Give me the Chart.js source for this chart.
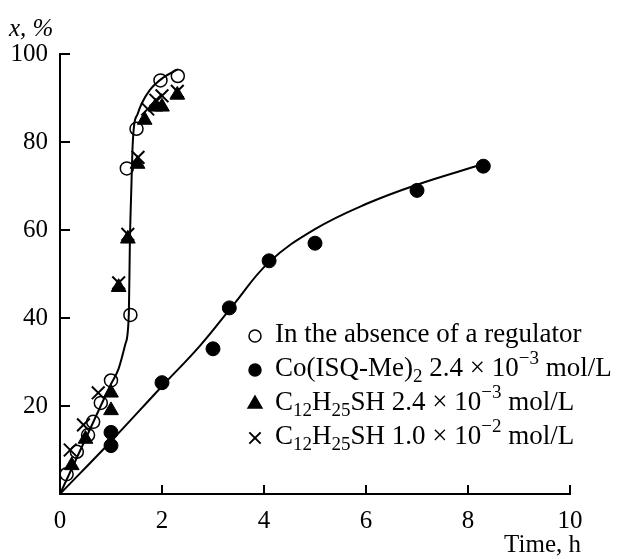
<!DOCTYPE html>
<html><head><meta charset="utf-8">
<script src="https://cdn.jsdelivr.net/npm/chart.js@4/dist/chart.umd.min.js"></script>
<style>html,body{margin:0;padding:0;background:#fff;}canvas{display:block;}</style>
</head><body>
<canvas id="c" width="624" height="559"></canvas>
<script>
// ---- data ----
const xTicks = [0, 2, 4, 6, 8, 10];
const yTicks = [20, 40, 60, 80, 100];

const noRegX = [0.13, 0.33, 0.55, 0.65, 0.8, 1.0, 1.38, 1.31, 1.5, 1.97, 2.31];
const noRegY = [4.5, 9.6, 13.4, 16.4, 20.7, 25.8, 40.7, 74, 83, 94, 95];

const coX = [1.0, 1.0, 2.0, 3.0, 3.32, 4.1, 5.0, 7.0, 8.3];
const coY = [11, 14, 25.3, 33, 42.3, 53, 57, 69, 74.5];

const tri24X = [0.23, 0.5, 1.0, 1.0, 1.15, 1.33, 1.52, 1.66, 1.87, 2.0, 2.3];
const tri24Y = [6.5, 12.5, 19, 23, 47, 58, 75, 85, 88, 88, 90.7];

const cross10X = [0.2, 0.46, 0.75, 1.15, 1.33, 1.53, 1.72, 1.88, 2.0, 2.3];
const cross10Y = [10, 15.7, 23, 48, 59, 76.5, 87.5, 89.5, 90.5, 91.5];

// fitted curves as drawn in the figure
const fastCurveX = [0, 0.5, 1.0, 1.15, 1.28, 1.35, 1.37, 1.40, 1.42, 1.45, 1.52, 1.6, 1.76, 2.02, 2.31];
const fastCurveY = [0, 12.5, 25, 28.5, 34, 41, 57, 70, 78, 83.5, 86.3, 88.7, 91.8, 94.6, 96.5];

const coCurveX = [0, 1, 2, 2.73, 3.38, 4.1, 5, 6, 7, 8.3];
const coCurveY = [0, 12, 24.5, 33.5, 42.7, 52.7, 60.2, 65.9, 70.3, 75];

const legendItems = [
  {style: 'circle', fill: false, runs: [['In the absence of a regulator','n']]},
  {style: 'circle', fill: true, runs: [['Co(ISQ-Me)','n'],['2','sub'],[' 2.4 × 10','n'],['−3','sup'],[' mol/L','n']]},
  {style: 'triangle', fill: true, runs: [['C','n'],['12','sub'],['H','n'],['25','sub'],['SH 2.4 × 10','n'],['−3','sup'],[' mol/L','n']]},
  {style: 'crossRot', fill: false, runs: [['C','n'],['12','sub'],['H','n'],['25','sub'],['SH 1.0 × 10','n'],['−2','sup'],[' mol/L','n']]}
];

const FONT = '"Liberation Serif", "Times New Roman", serif';
const zip = (xs, ys) => xs.map((x, i) => ({x, y: ys[i]}));

const pointDs = (label, xs, ys, style, fill, radius, bw) => ({
  type: 'scatter', label, data: zip(xs, ys), showLine: false,
  pointStyle: style, pointRadius: radius, pointHoverRadius: radius,
  pointBorderWidth: bw, borderColor: '#000',
  pointBorderColor: '#000',
  pointBackgroundColor: fill ? '#000' : 'rgba(0,0,0,0)', order: 1
});
const lineDs = (xs, ys, mode, tension) => ({
  type: 'line', data: zip(xs, ys), borderColor: '#000', borderWidth: 2,
  pointRadius: 0, cubicInterpolationMode: mode, tension: tension, fill: false, order: 2
});

const decor = {
  id: 'decor',
  afterDraw(chart) {
    const ctx = chart.ctx, xs = chart.scales.x, ys = chart.scales.y;
    const a = chart.chartArea;
    ctx.save();
    ctx.strokeStyle = '#000'; ctx.lineWidth = 2;
    // inward ticks
    xTicks.forEach(v => { if (v === 0) return; const p = Math.round(xs.getPixelForValue(v));
      ctx.beginPath(); ctx.moveTo(p, a.bottom); ctx.lineTo(p, a.bottom - 9); ctx.stroke(); });
    yTicks.forEach(v => { const p = Math.round(ys.getPixelForValue(v));
      ctx.beginPath(); ctx.moveTo(a.left, p); ctx.lineTo(a.left + 10, p); ctx.stroke(); });
    // axis titles
    ctx.fillStyle = '#000';
    ctx.textBaseline = 'middle';
    ctx.font = 'italic 25px ' + FONT;
    ctx.textAlign = 'left';
    ctx.fillText('x, %', 9, 29);
    ctx.font = '25px ' + FONT;
    ctx.textAlign = 'right';
    ctx.fillText('Time, h', 581, 545);
    // legend
    ctx.textAlign = 'left';
    const lx = 255, tx = 275, y0 = 335, dy = 34;
    legendItems.forEach((it, i) => {
      const y = y0 + i * dy;
      ctx.save();
      ctx.strokeStyle = '#000'; ctx.fillStyle = it.fill ? '#000' : 'rgba(0,0,0,0)';
      ctx.lineWidth = it.style === 'crossRot' ? 2 : 1.5;
      const r = it.style === 'triangle' ? 8 : (it.style === 'crossRot' ? 8 : 6);
      Chart.helpers.drawPoint(ctx, {pointStyle: it.style, radius: r, borderWidth: ctx.lineWidth, rotation: 0}, lx, y + 1);
      ctx.restore();
      let x = tx;
      it.runs.forEach(([t, k]) => {
        let dyy = 0;
        if (k === 'n') ctx.font = '27px ' + FONT;
        else { ctx.font = '19px ' + FONT; dyy = k === 'sub' ? 8 : -10; }
        ctx.fillStyle = '#000';
        ctx.fillText(t, x, y + dyy);
        x += ctx.measureText(t).width;
      });
    });
    ctx.restore();
  }
};

new Chart(document.getElementById('c'), {
  data: {
    datasets: [
      lineDs(fastCurveX, fastCurveY, 'monotone', 0),
      lineDs(coCurveX, coCurveY, 'default', 0.4),
      pointDs('In the absence of a regulator', noRegX, noRegY, 'circle', false, 6.5, 1.5),
      pointDs('Co(ISQ-Me)2 2.4 × 10−3 mol/L', coX, coY, 'circle', true, 7, 1),
      pointDs('C12H25SH 2.4 × 10−3 mol/L', tri24X, tri24Y, 'triangle', true, 8.5, 1),
      pointDs('C12H25SH 1.0 × 10−2 mol/L', cross10X, cross10Y, 'crossRot', false, 9, 2)
    ]
  },
  options: {
    responsive: false, animation: false, devicePixelRatio: 1,
    layout: {padding: {left: 0, top: 54, right: 54, bottom: 0}},
    plugins: {legend: {display: false}, tooltip: {enabled: false}},
    scales: {
      x: {
        type: 'linear', min: 0, max: 10,
        afterBuildTicks: s => { s.ticks = xTicks.map(v => ({value: v})); },
        afterFit: s => { s.height = 65; },
        grid: {display: false, drawTicks: false},
        border: {display: true, color: '#000', width: 2},
        ticks: {color: '#000', padding: 12, font: {family: FONT, size: 25}, maxRotation: 0}
      },
      y: {
        type: 'linear', min: 0, max: 100,
        afterBuildTicks: s => { s.ticks = yTicks.map(v => ({value: v})); },
        afterFit: s => { s.width = 60; },
        grid: {display: false, drawTicks: false},
        border: {display: true, color: '#000', width: 2},
        ticks: {color: '#000', padding: 12, font: {family: FONT, size: 25}}
      }
    }
  },
  plugins: [decor]
});
</script>
</body></html>
